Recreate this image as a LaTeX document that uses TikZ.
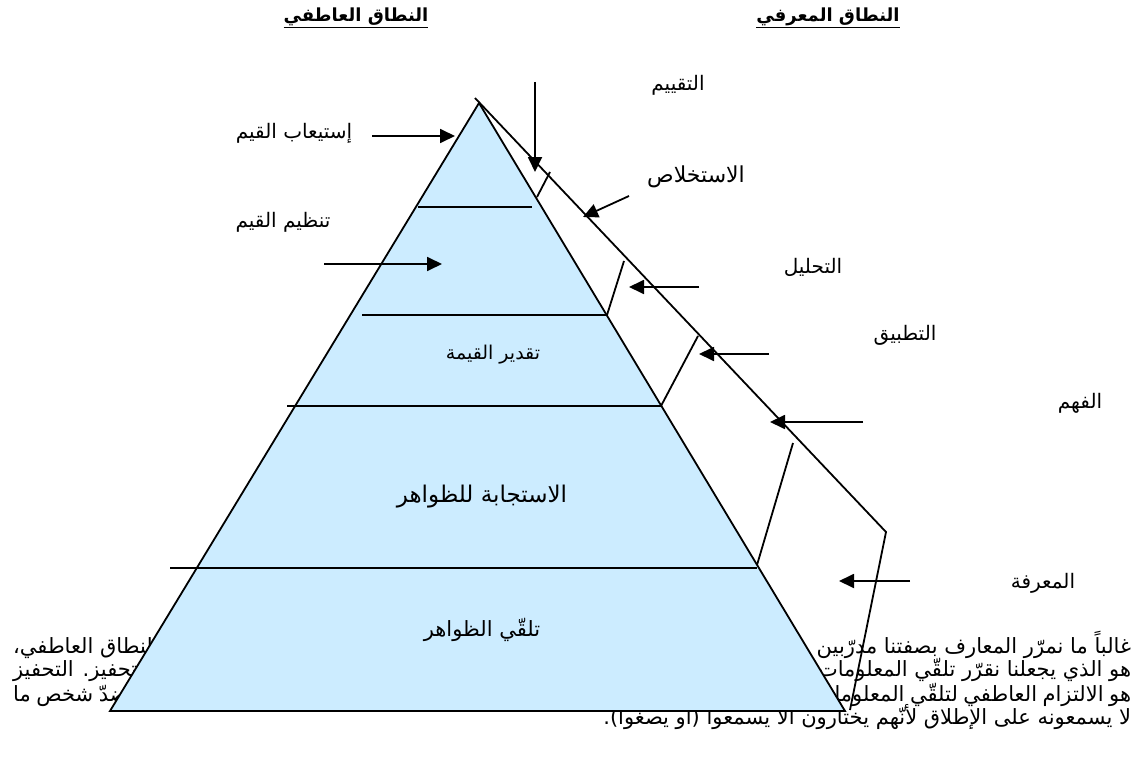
\documentclass[tikz,border=0pt]{standalone}
\usepackage{fontspec}
\setmainfont{Liberation Sans}
\newfontfamily\ar[Script=Arabic]{DejaVu Sans}
\TeXXeTstate=1
\usetikzlibrary{arrows.meta}
\definecolor{pyr}{RGB}{204,236,255}
\begin{document}
\begin{tikzpicture}[x=1pt,y=-1pt,line width=1.8pt,line join=miter,
  arr/.style={-{Triangle[length=15pt,width=14pt]}},
  lbl/.style={font=\ar\fontsize{20}{24}\selectfont,inner sep=0pt},
  head/.style={font=\ar\bfseries\fontsize{18}{22}\selectfont,inner sep=0pt},
  body/.style={font=\ar\fontsize{21}{24}\selectfont,inner sep=0pt,anchor=east}]
\useasboundingbox (0,0) rectangle (1141,760);
% body text (under the pyramid)
\node[body] (t1) at (1132,645) {\hbox to 1118pt{\beginR غالباً ما نمرّر المعارف بصفتنا مدرّبين\hfill من دون أن نولي اهتماماً كافياً لجانب مهمّ ألا وهو\hfill النطاق العاطفي،\endR}};
\node[body] (t2) at (1132,668) {\hbox to 1118pt{\beginR هو الذي يجعلنا نقرّر تلقّي المعلومات\hfill أو رفضها، ويرتبط ارتباطاً وثيقاً بمسألة\hfill التحفيز. التحفيز\endR}};
\node[body] (t3) at (1132,694) {\hbox to 1118pt{\beginR هو الالتزام العاطفي لتلقّي المعلومات\hfill واستيعابها وتبنّيها. الافتقار إلى هذا الالتزام هو ما يفسّر كيف أن الإستماع الاختياري\hfill ضدّ شخص ما\endR}};
\node[body] (t4) at (1132,716) {\beginR لا يسمعونه على الإطلاق لأنّهم يختارون ألاّ يسمعوا (أو يصغوا).\endR};
% headings
\node[head] (h1) at (356,18) {\underline{\beginR النطاق العاطفي\endR}};
\node[head] (h2) at (828,18) {\underline{\beginR النطاق المعرفي\endR}};
% pyramid
\coordinate (A) at (479,103);
\coordinate (BL) at (110,711);
\coordinate (BR) at (845,711);
\filldraw[fill=pyr] (A) -- (BL) -- (BR) -- cycle;
% level lines
\coordinate (l1a) at (418,207); \coordinate (l1b) at (532,207);
\coordinate (l2a) at (362,315); \coordinate (l2b) at (607,315);
\coordinate (l3a) at (287,406); \coordinate (l3b) at (661,406);
\coordinate (l4a) at (170,568); \coordinate (l4b) at (757,568);
\draw (l1a) -- (l1b);
\draw (l2a) -- (l2b);
\draw (l3a) -- (l3b);
\draw (l4a) -- (l4b);
% outer cognitive line
\coordinate (O0) at (475,98);
\coordinate (O1) at (886,532);
\coordinate (O2) at (850,710);
\draw (O0) -- (O1) -- (O2);
% short slants
\coordinate (s1a) at (550,172); \coordinate (s1b) at (537,197);
\coordinate (s2a) at (624,261); \coordinate (s2b) at (607,315);
\coordinate (s3a) at (698,336); \coordinate (s3b) at (661,406);
\coordinate (s4a) at (793,443); \coordinate (s4b) at (757,565);
\draw (s1a) -- (s1b);
\draw (s2a) -- (s2b);
\draw (s3a) -- (s3b);
\draw (s4a) -- (s4b);
% labels
\node[lbl] (L1) at (294,133) {\beginR إستيعاب القيم\endR};
\node[lbl] (L2) at (283,222) {\beginR تنظيم القيم\endR};
\node[lbl,font=\ar\fontsize{19}{22}\selectfont] (L3) at (493,355) {\beginR تقدير القيمة\endR};
\node[lbl,font=\ar\fontsize{23}{27}\selectfont] (L4) at (482,497) {\beginR الاستجابة للظواهر\endR};
\node[lbl,font=\ar\fontsize{21}{25}\selectfont] (L5) at (482,630) {\beginR تلقّي الظواهر\endR};
\node[lbl] (R1) at (678,85) {\beginR التقييم\endR};
\node[lbl,font=\ar\fontsize{22}{26}\selectfont] (R2) at (696,177) {\beginR الاستخلاص\endR};
\node[lbl] (R3) at (813,267) {\beginR التحليل\endR};
\node[lbl] (R4) at (905,335) {\beginR التطبيق\endR};
\node[lbl] (R5) at (1080,403) {\beginR الفهم\endR};
\node[lbl] (R6) at (1043,583) {\beginR المعرفة\endR};
% arrows
\coordinate (a1s) at (535,82);  \coordinate (a1e) at (535,172);
\coordinate (a2s) at (372,136); \coordinate (a2e) at (455,136);
\coordinate (a3s) at (324,264); \coordinate (a3e) at (442,264);
\coordinate (a4s) at (629,196); \coordinate (a4e) at (583,217);
\coordinate (a5s) at (699,287); \coordinate (a5e) at (629,287);
\coordinate (a6s) at (769,354); \coordinate (a6e) at (699,354);
\coordinate (a7s) at (863,422); \coordinate (a7e) at (770,422);
\coordinate (a8s) at (910,581); \coordinate (a8e) at (839,581);
\draw[arr] (a1s) -- (a1e);
\draw[arr] (a2s) -- (a2e);
\draw[arr] (a3s) -- (a3e);
\draw[arr] (a4s) -- (a4e);
\draw[arr] (a5s) -- (a5e);
\draw[arr] (a6s) -- (a6e);
\draw[arr] (a7s) -- (a7e);
\draw[arr] (a8s) -- (a8e);
\end{tikzpicture}
\end{document}
